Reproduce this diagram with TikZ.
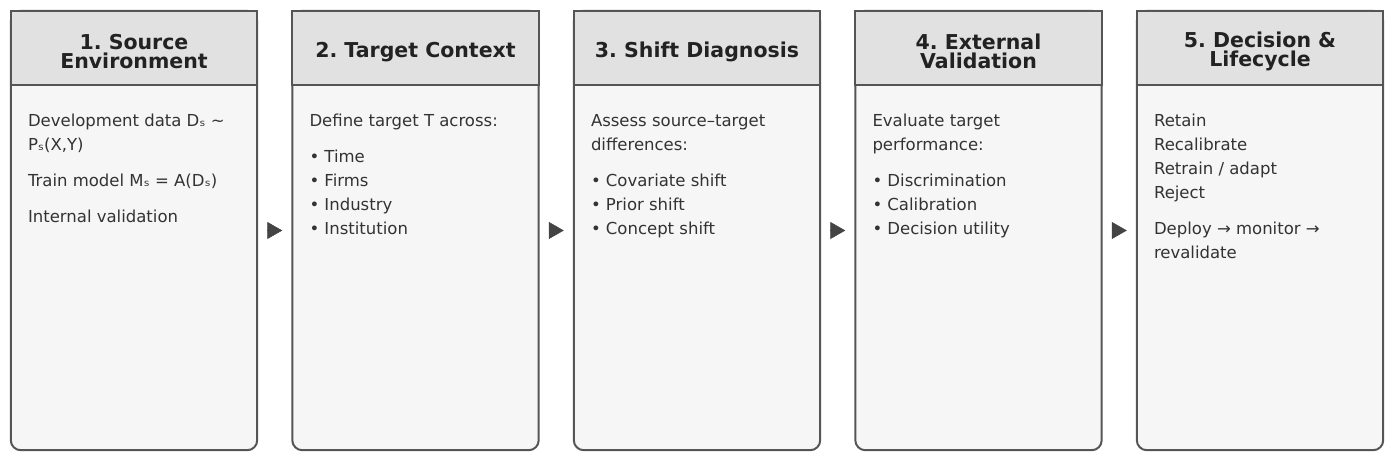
\documentclass[tikz,border=0pt]{standalone}
\usepackage{fontspec}
\setmainfont{DejaVu Sans}
\usetikzlibrary{arrows.meta}
\frenchspacing
\definecolor{hdrfill}{HTML}{E1E1E1}
\definecolor{bodyfill}{HTML}{F6F6F6}
\definecolor{edgecol}{HTML}{555555}
\definecolor{titlecol}{HTML}{222222}
\definecolor{textcol}{HTML}{333333}
\definecolor{arrcol}{HTML}{444444}
\tikzset{
  boxnode/.style={minimum width=246pt, minimum height=439pt, inner sep=0pt, draw=none},
  bodybox/.style={draw=edgecol, line width=2pt, fill=bodyfill, rounded corners=10pt},
  hdrbox/.style={draw=edgecol, line width=2pt, fill=hdrfill},
  titletext/.style={font=\fontsize{20.5}{19}\selectfont\bfseries, text=titlecol, align=center, inner sep=0pt},
  bodytext/.style={font=\fontsize{16.5}{24}\selectfont, text=textcol, align=left, anchor=north west, inner sep=0pt},
  flowarrow/.style={draw=arrcol, line width=0.6pt, -{Triangle[length=15pt, width=17pt]}, shorten <=10pt, shorten >=10pt},
}
\begin{document}
\begin{tikzpicture}[x=1pt,y=1pt]
\useasboundingbox (0,0) rectangle (1393,460);
% box nodes
\foreach \i/\nm in {0/b1,1/b2,2/b3,3/b4,4/b5}{
  \pgfmathsetmacro{\cx}{11+281.5*\i+123}
  \node[boxnode] (\nm) at (\cx,229.5) {};
}
% draw boxes
\foreach \nm in {b1,b2,b3,b4,b5}{
  \draw[bodybox] (\nm.north west) rectangle (\nm.south east);
  \draw[hdrbox] (\nm.north west) rectangle ([yshift=-74pt]\nm.north east);
  \coordinate (\nm-t) at ([yshift=-41pt]\nm.north);
  \coordinate (\nm-b) at ([xshift=17pt,yshift=-103.4pt]\nm.north west);
}
% titles
\node[titletext] (t1) at (b1-t) {1. Source\\Environment};
\node[titletext] (t2) at (b2-t) {2. Target Context};
\node[titletext] (t3) at (b3-t) {3. Shift Diagnosis};
\node[titletext] (t4) at (b4-t) {4. External\\Validation};
\node[titletext] (t5) at (b5-t) {5. Decision \&\\Lifecycle};
% body texts
\node[bodytext] (x1) at (b1-b) {Development data Dₛ \textasciitilde\\Pₛ(X,Y)\\[12pt]Train model Mₛ = A(Dₛ)\\[12pt]Internal validation};
\node[bodytext] (x2) at (b2-b) {Define target T across:\\[12pt]• Time\\• Firms\\• Industry\\• Institution};
\node[bodytext] (x3) at (b3-b) {Assess source–target\\differences:\\[12pt]• Covariate shift\\• Prior shift\\• Concept shift};
\node[bodytext] (x4) at (b4-b) {Evaluate target\\performance:\\[12pt]• Discrimination\\• Calibration\\• Decision utility};
\node[bodytext] (x5) at (b5-b) {Retain\\Recalibrate\\Retrain / adapt\\Reject\\[12pt]Deploy → monitor →\\revalidate};
% arrows
\draw[flowarrow] (b1.east) -- (b2.west);
\draw[flowarrow] (b2.east) -- (b3.west);
\draw[flowarrow] (b3.east) -- (b4.west);
\draw[flowarrow] (b4.east) -- (b5.west);
\end{tikzpicture}
\end{document}
